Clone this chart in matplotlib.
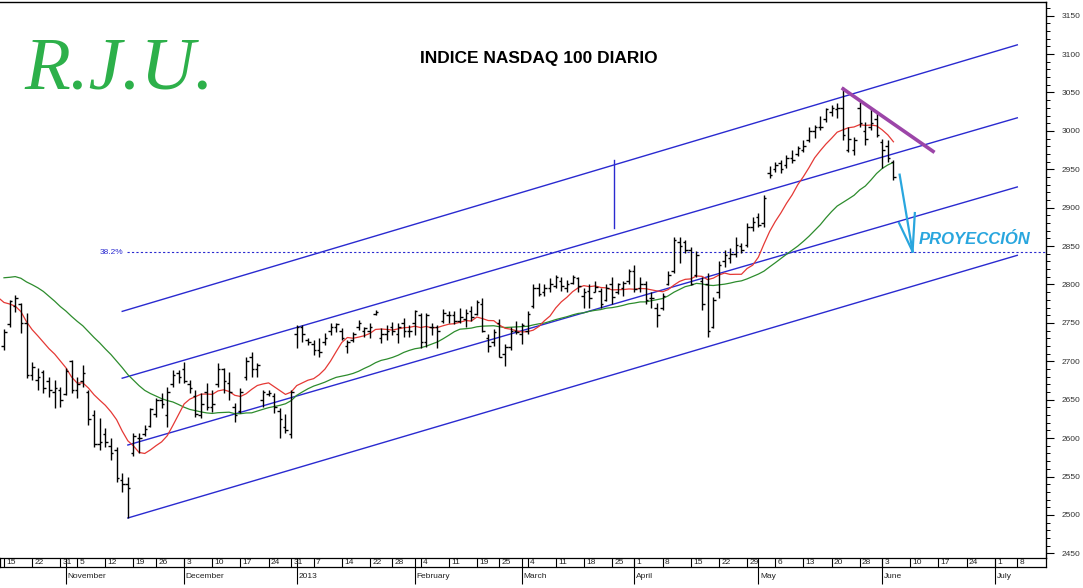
import numpy as np
import pandas as pd
import matplotlib
matplotlib.use('Agg')
import matplotlib.pyplot as plt
from matplotlib.ticker import MultipleLocator

plt.rcParams['font.family'] = ['Liberation Sans', 'DejaVu Sans']

# trading calendar (market closed on these days)
START = '2012-10-15'
END = '2013-07-19'
HOLIDAYS = ['2012-10-29', '2012-10-30', '2012-11-22', '2012-12-25', '2013-01-01',
            '2013-01-21', '2013-02-18', '2013-03-29', '2013-05-27', '2013-07-04']

# closes before the first bar, only used to seed the moving averages
PRIOR_CLOSE = [2760, 2755, 2815, 2825, 2800, 2800, 2810, 2850, 2855, 2860,
               2865, 2870, 2862, 2860, 2855, 2820, 2805, 2830, 2800, 2800,
               2798, 2810, 2820, 2815, 2795, 2760, 2750, 2745, 2735]

HIGH = [2742, 2780, 2786, 2776, 2763, 2699, 2691, 2689, 2680, 2676,
        2667, 2691, 2702, 2680, 2695, 2663, 2636, 2626, 2613, 2600,
        2588, 2555, 2549, 2606, 2607, 2617, 2639, 2652, 2659, 2667,
        2689, 2689, 2699, 2676, 2663, 2659, 2672, 2663, 2698, 2691,
        2686, 2646, 2665, 2706, 2712, 2698, 2663, 2662, 2659, 2639,
        2632, 2663, 2747, 2747, 2730, 2728, 2730, 2737, 2750, 2750,
        2743, 2728, 2738, 2754, 2745, 2750, 2767, 2743, 2747, 2751,
        2750, 2756, 2747, 2767, 2763, 2763, 2750, 2747, 2768, 2765,
        2766, 2770, 2768, 2772, 2780, 2782, 2735, 2742, 2755, 2722,
        2745, 2752, 2750, 2765, 2800, 2802, 2800, 2808, 2812, 2810,
        2806, 2813, 2810, 2795, 2800, 2805, 2795, 2800, 2810, 2802,
        2805, 2820, 2825, 2810, 2805, 2790, 2776, 2789, 2817, 2862,
        2862, 2858, 2849, 2843, 2810, 2815, 2784, 2830, 2845, 2847,
        2862, 2854, 2880, 2888, 2893, 2917, 2954, 2960, 2962, 2969,
        2975, 2980, 2988, 3005, 3008, 3019, 3030, 3034, 3036, 3057,
        3005, 2992, 3038, 3012, 3028, 3023, 2990, 2988, 2962]
LOW = [2715, 2745, 2764, 2737, 2678, 2676, 2663, 2659, 2653, 2639,
       2641, 2656, 2659, 2652, 2667, 2617, 2588, 2584, 2588, 2571,
       2543, 2530, 2496, 2577, 2581, 2603, 2614, 2627, 2639, 2614,
       2667, 2672, 2672, 2659, 2627, 2626, 2637, 2634, 2667, 2659,
       2650, 2621, 2633, 2676, 2680, 2680, 2641, 2655, 2633, 2600,
       2607, 2600, 2717, 2725, 2721, 2708, 2705, 2721, 2734, 2738,
       2728, 2711, 2725, 2741, 2732, 2730, 2760, 2724, 2728, 2734,
       2724, 2732, 2732, 2734, 2717, 2719, 2734, 2717, 2750, 2750,
       2748, 2750, 2745, 2752, 2760, 2738, 2712, 2720, 2705, 2694,
       2715, 2735, 2722, 2735, 2770, 2785, 2785, 2790, 2795, 2792,
       2790, 2800, 2790, 2770, 2770, 2790, 2770, 2778, 2775, 2788,
       2785, 2800, 2790, 2790, 2775, 2770, 2745, 2767, 2799, 2815,
       2828, 2841, 2799, 2810, 2767, 2732, 2743, 2782, 2823, 2828,
       2836, 2841, 2849, 2869, 2875, 2875, 2939, 2947, 2945, 2952,
       2958, 2967, 2973, 2986, 2991, 3001, 3012, 3019, 3017, 2988,
       2972, 2968, 3005, 2982, 3001, 2992, 2952, 2959, 2936]
OPEN = [2720, 2748, 2772, 2775, 2750, 2682, 2676, 2686, 2675, 2660,
        2662, 2658, 2700, 2662, 2675, 2660, 2630, 2592, 2605, 2590,
        2585, 2545, 2540, 2580, 2600, 2605, 2616, 2632, 2650, 2630,
        2670, 2685, 2690, 2670, 2655, 2630, 2660, 2640, 2670, 2690,
        2672, 2640, 2635, 2680, 2705, 2690, 2650, 2657, 2655, 2635,
        2615, 2605, 2735, 2745, 2728, 2722, 2715, 2725, 2740, 2745,
        2740, 2720, 2728, 2745, 2740, 2740, 2762, 2730, 2735, 2745,
        2735, 2750, 2740, 2750, 2760, 2725, 2745, 2745, 2752, 2760,
        2760, 2752, 2755, 2765, 2762, 2775, 2730, 2725, 2750, 2710,
        2718, 2740, 2735, 2740, 2772, 2796, 2790, 2795, 2798, 2805,
        2795, 2802, 2808, 2785, 2792, 2790, 2792, 2780, 2800, 2790,
        2795, 2805, 2818, 2795, 2800, 2782, 2770, 2770, 2800, 2818,
        2855, 2855, 2845, 2812, 2805, 2800, 2745, 2790, 2830, 2835,
        2840, 2850, 2852, 2875, 2888, 2880, 2945, 2950, 2958, 2955,
        2965, 2970, 2975, 2988, 3000, 3005, 3015, 3025, 3028, 3030,
        2975, 2975, 3030, 3000, 3005, 3015, 2985, 2980, 2960]
CLOSE = [2738, 2778, 2782, 2750, 2682, 2692, 2680, 2665, 2662, 2665,
         2650, 2688, 2662, 2670, 2685, 2625, 2592, 2595, 2595, 2580,
         2548, 2540, 2535, 2603, 2600, 2612, 2638, 2650, 2645, 2660,
         2682, 2680, 2675, 2665, 2632, 2645, 2640, 2645, 2690, 2675,
         2660, 2630, 2660, 2700, 2690, 2695, 2660, 2659, 2640, 2625,
         2610, 2660, 2745, 2735, 2725, 2715, 2712, 2730, 2745, 2748,
         2730, 2725, 2735, 2750, 2743, 2745, 2764, 2735, 2740, 2740,
         2745, 2740, 2740, 2765, 2725, 2760, 2745, 2740, 2763, 2760,
         2752, 2758, 2763, 2758, 2777, 2740, 2720, 2738, 2706, 2718,
         2740, 2738, 2747, 2762, 2796, 2788, 2795, 2800, 2810, 2798,
         2800, 2810, 2798, 2790, 2783, 2797, 2775, 2795, 2784, 2800,
         2802, 2818, 2794, 2800, 2780, 2783, 2760, 2785, 2812, 2858,
         2850, 2845, 2800, 2838, 2775, 2740, 2780, 2825, 2838, 2840,
         2852, 2845, 2875, 2882, 2878, 2912, 2942, 2955, 2950, 2965,
         2962, 2978, 2980, 3000, 3005, 3005, 3028, 3030, 3030, 2995,
         2990, 2988, 3010, 2990, 3010, 2995, 2975, 2965, 2940]

# hand drawn studies: (bar index, price) end points
CHANNEL_TOP = [(21, 2765), (180, 3112)]
CHANNEL_MID = [(21, 2678), (180, 3017)]
CHANNEL_LOW = [(22, 2591), (180, 2927)]
CHANNEL_BOTTOM = [(22, 2496), (180, 2838)]
CHANNEL_WIDTH = [(108.3, 2962), (108.3, 2873)]
TRENDLINE = [(148.8, 3056), (165.3, 2972)]
FIBO_LEVEL = 2842
FIBO_START = 21.9
ARROW_SHAFT = [(159.1, 2943), (161.4, 2843)]
ARROW_LEFT = [(159.0, 2880), (161.4, 2843)]
ARROW_RIGHT = [(161.8, 2893), (161.4, 2843)]

MONTH_NAMES = {1: '2013', 2: 'February', 3: 'March', 4: 'April', 5: 'May', 6: 'June',
               7: 'July', 11: 'November', 12: 'December'}

days = pd.bdate_range(START, END)
days = days[~days.isin(pd.to_datetime(HOLIDAYS))]
n = len(CLOSE)
x = np.arange(n)

closes = pd.Series(PRIOR_CLOSE + CLOSE, dtype=float)
xs_all = np.arange(-len(PRIOR_CLOSE), n)
ma10 = closes.rolling(10).mean()
ma30 = closes.rolling(30).mean()

W, H = 1083, 588
fig = plt.figure(figsize=(W / 100, H / 100), dpi=100)
fig.patch.set_facecolor('white')

xlim = (-0.71, 185.1)
ax = fig.add_axes([0, (H - 558) / H, 1046 / W, 556 / H])
ax.set_xlim(*xlim)
ax.set_ylim(2443.9, 3167.8)
for s in ['left', 'bottom']:
    ax.spines[s].set_visible(False)
ax.spines['top'].set_linewidth(1.0)
ax.spines['right'].set_linewidth(1.0)
ax.set_xticks([])
ax.yaxis.tick_right()
ax.yaxis.set_major_locator(MultipleLocator(50))
ax.yaxis.set_minor_locator(MultipleLocator(10))
ax.tick_params(axis='y', which='major', length=6, width=0.8, labelsize=6,
               labelcolor='#333333', pad=5)
ax.tick_params(axis='y', which='minor', length=3, width=0.7)

blue = '#2a2ad0'
for line in [CHANNEL_TOP, CHANNEL_MID, CHANNEL_LOW, CHANNEL_BOTTOM, CHANNEL_WIDTH]:
    ax.plot([p[0] for p in line], [p[1] for p in line], color=blue, lw=1.0)
ax.hlines(FIBO_LEVEL, FIBO_START, xlim[1], color=blue, lw=0.8, linestyles=(0, (2, 2)))
ax.text(FIBO_START - 0.7, FIBO_LEVEL, '38.2%', color=blue, fontsize=6,
        ha='right', va='center')

# moving averages
ax.plot(xs_all, ma30, color='#2d8c2d', lw=0.9)
ax.plot(xs_all, ma10, color='#e53935', lw=0.9)

# OHLC bars
ax.vlines(x, LOW, HIGH, color='black', lw=1.0)
ax.hlines(OPEN, x - 0.45, x, color='black', lw=1.0)
ax.hlines(CLOSE, x, x + 0.45, color='black', lw=1.0)

ax.plot([p[0] for p in TRENDLINE], [p[1] for p in TRENDLINE], color='#9c45a8', lw=2.6,
        solid_capstyle='butt')
arrow_c = '#29a6de'
for seg in [ARROW_SHAFT, ARROW_LEFT, ARROW_RIGHT]:
    ax.plot([p[0] for p in seg], [p[1] for p in seg], color=arrow_c, lw=1.6)
ax.text(162.4, 2858, 'PROYECCIÓN', color=arrow_c, fontsize=12, fontweight='bold',
        style='italic', ha='left', va='center',
        family=['Liberation Sans Narrow', 'Liberation Sans', 'DejaVu Sans'])

fig.text(539 / W, 1 - 58 / H, 'INDICE NASDAQ 100 DIARIO', ha='center', va='center',
         fontsize=12.5, fontweight='bold',
         family=['Liberation Sans Narrow', 'Liberation Sans', 'DejaVu Sans'])
fig.text(24 / W, 1 - 71 / H, 'R.J.U.', ha='left', va='center', fontsize=54,
         style='italic', color='#2db04a', family=['Liberation Serif', 'DejaVu Serif'])

# date strip
pos = pd.Series(np.arange(len(days)), index=days)
iso = days.isocalendar()
week_first = pos.groupby([iso.year.values, iso.week.values]).min()
month_first = pos.groupby([days.year, days.month]).min()

ax_s = fig.add_axes([0, (H - 567) / H, 1046 / W, 9 / H])
ax_s.set_xlim(*xlim)
ax_s.set_ylim(0, 1)
ax_s.set_xticks([])
ax_s.set_yticks([])
for s in ax_s.spines.values():
    s.set_linewidth(0.9)
for i in week_first.values:
    if i > xlim[1] - 1:
        continue
    ax_s.axvline(i, color='black', lw=0.8)
    ax_s.text(i + 0.4, 0.45, str(days[i].day), fontsize=6, ha='left', va='center',
              color='#222222')

ax_m = fig.add_axes([0, 0, 1046 / W, 21 / H])
ax_m.set_xlim(*xlim)
ax_m.set_ylim(0, 1)
ax_m.axis('off')
for (yy, mm), i in month_first.items():
    if i == 0 or i > xlim[1]:
        continue
    ax_s.axvline(i, color='black', lw=0.8)
    ax_m.vlines(i, 0.2, 1, color='black', lw=0.8)
    ax_m.text(i + 0.3, 0.55, MONTH_NAMES[mm], fontsize=6, ha='left', va='center',
              color='#222222')

fig.savefig('out.png', dpi=100)
